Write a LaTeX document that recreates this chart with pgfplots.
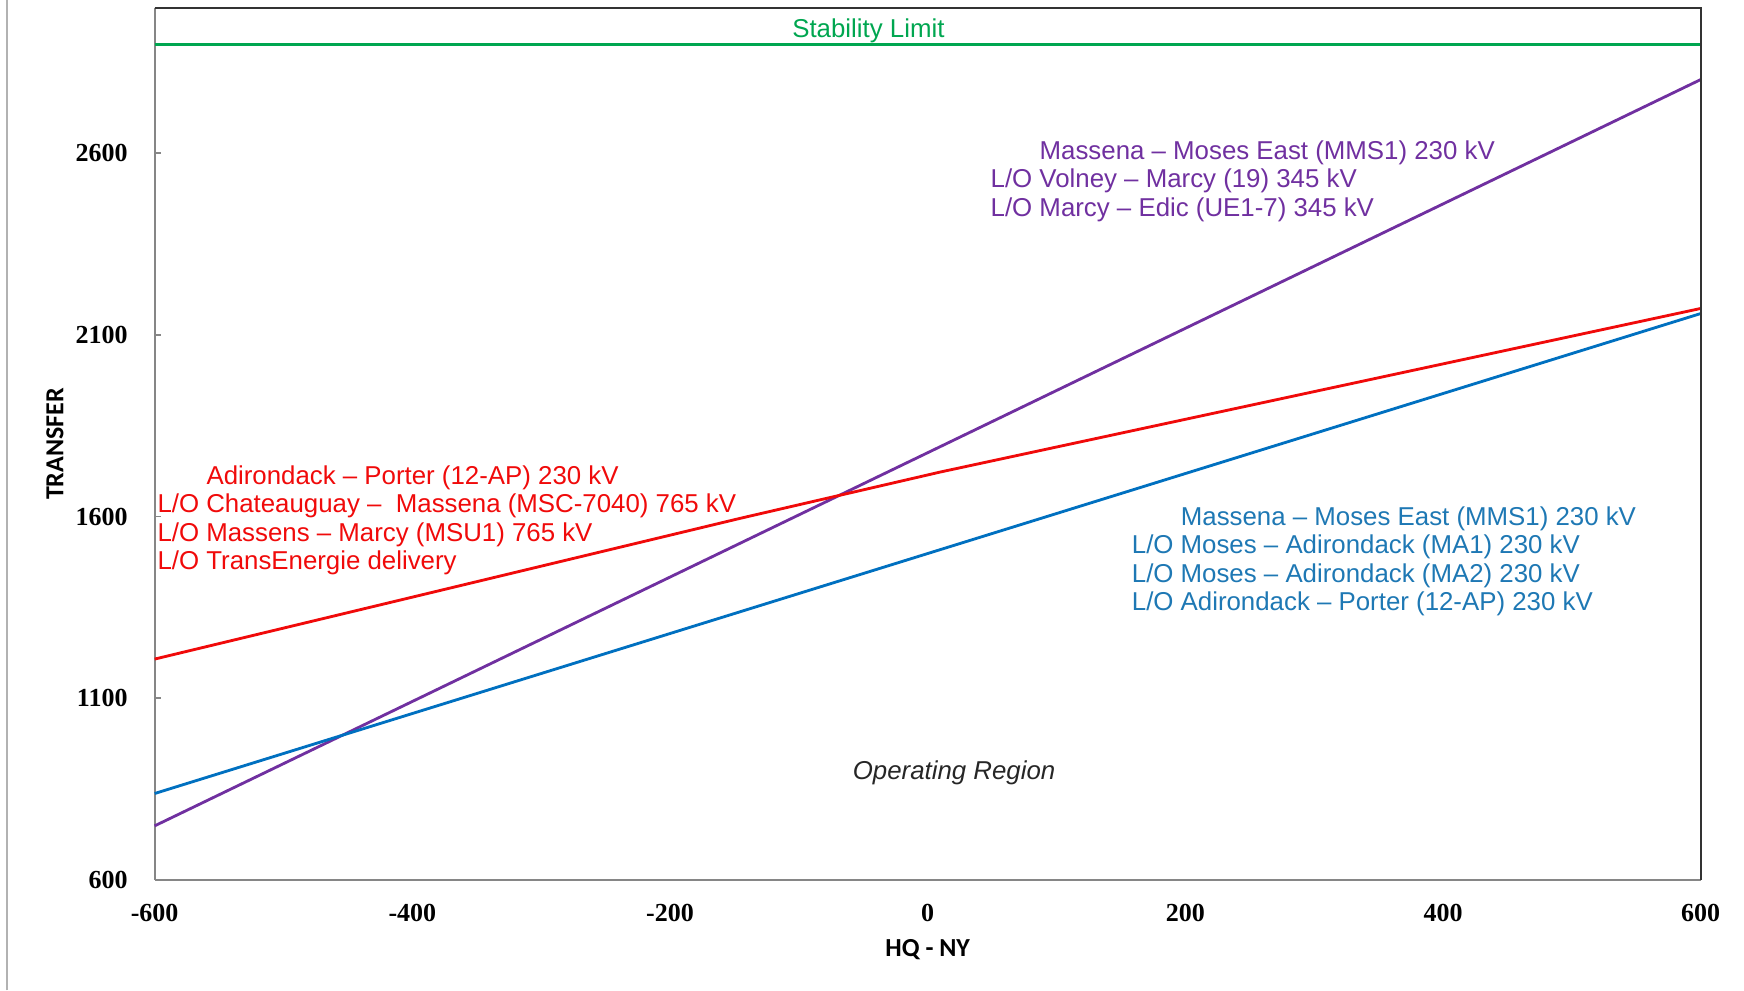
\documentclass[border=0pt]{standalone}
\usepackage{pgfplots}
\pgfplotsset{compat=1.18}
\usepackage{fontspec}
\setmainfont{Liberation Sans}
\newfontfamily\tickfont{Liberation Serif}
\newfontfamily\labfont{Carlito}
\definecolor{cgreen}{RGB}{0,166,80}
\definecolor{cpurple}{RGB}{112,48,160}
\definecolor{cred}{RGB}{240,10,10}
\definecolor{cblue}{RGB}{0,112,192}
\definecolor{cbluet}{RGB}{30,120,180}
\definecolor{axgray}{RGB}{134,134,134}
\newcommand{\fs}{\fontsize{7.75}{8.46}\selectfont}
\begin{document}
\begin{tikzpicture}
\path[use as bounding box] (-46.4pt,-33.1pt) rectangle (476.8pt,264.0pt);
\draw[gray!60, line width=0.7pt] (-44.3pt,-33.1pt) -- (-44.3pt,264pt);
\begin{axis}[
  at={(0,0)}, anchor=south west, scale only axis,
  width=463.8pt, height=261.6pt,
  xmin=-600, xmax=600, ymin=600, ymax=3000,
  xtick={-600,-400,...,600}, ytick={600,1100,...,2600},
  axis x line*=bottom, axis y line*=left,
  axis line style={draw=axgray, line width=0.6pt},
  tick align=inside, major tick length=2pt,
  x tick style={draw=none}, y tick style={draw=axgray, line width=0.5pt},
  /pgf/number format/assume math mode=true,
  /pgf/number format/1000 sep={},
  tick label style={font=\tickfont\bfseries\fontsize{7.8}{9}\selectfont},
  yticklabel style={xshift=-4.6pt},
  xticklabel style={yshift=-3.8pt},
  xlabel={HQ - NY}, ylabel={TRANSFER},
  label style={font=\labfont\bfseries\fontsize{7.8}{9}\selectfont},
  xlabel style={at={(axis description cs:0.5,0)}, anchor=center, yshift=-20.8pt},
  ylabel style={at={(axis description cs:0,0.5)}, anchor=center, yshift=29.9pt},
  clip=false,
]
\addplot[cgreen, line width=0.85pt] coordinates {(-600,2900) (600,2900)};
\addplot[cpurple, line width=0.85pt] coordinates {(-600,749) (600,2803)};
\addplot[cred, line width=0.85pt] coordinates {(-600,1208) (-146,1595) (10,1723) (600,2173)};
\addplot[cblue, line width=0.85pt] coordinates {(-600,838) (600,2159)};
\draw[black!80, line width=0.6pt] (rel axis cs:0,1) -- (rel axis cs:1,1) -- (rel axis cs:1,0);
\node[cgreen, font=\fs] at (axis cs:-46,2936) {Stability Limit};
\node[cpurple, anchor=west, align=left, inner sep=0pt, font=\fs] at (axis cs:48.4,2523)
  {\hspace*{14.7pt}Massena – Moses East (MMS1) 230 kV\\L/O Volney – Marcy (19) 345 kV\\L/O Marcy – Edic (UE1-7) 345 kV};
\node[cred, anchor=west, align=left, inner sep=0pt, font=\fs] at (axis cs:-598.3,1590)
  {\hspace*{14.7pt}Adirondack – Porter (12-AP) 230 kV\\L/O Chateauguay –\ \ Massena (MSC-7040) 765 kV\\L/O Massens – Marcy (MSU1) 765 kV\\L/O TransEnergie delivery};
\node[cbluet, anchor=west, align=left, inner sep=0pt, font=\fs] at (axis cs:158,1477)
  {\hspace*{14.7pt}Massena – Moses East (MMS1) 230 kV\\L/O Moses – Adirondack (MA1) 230 kV\\L/O Moses – Adirondack (MA2) 230 kV\\L/O Adirondack – Porter (12-AP) 230 kV};
\node[black!85, font=\fs\itshape] at (axis cs:20.5,894) {Operating Region};
\end{axis}
\end{tikzpicture}
\end{document}
